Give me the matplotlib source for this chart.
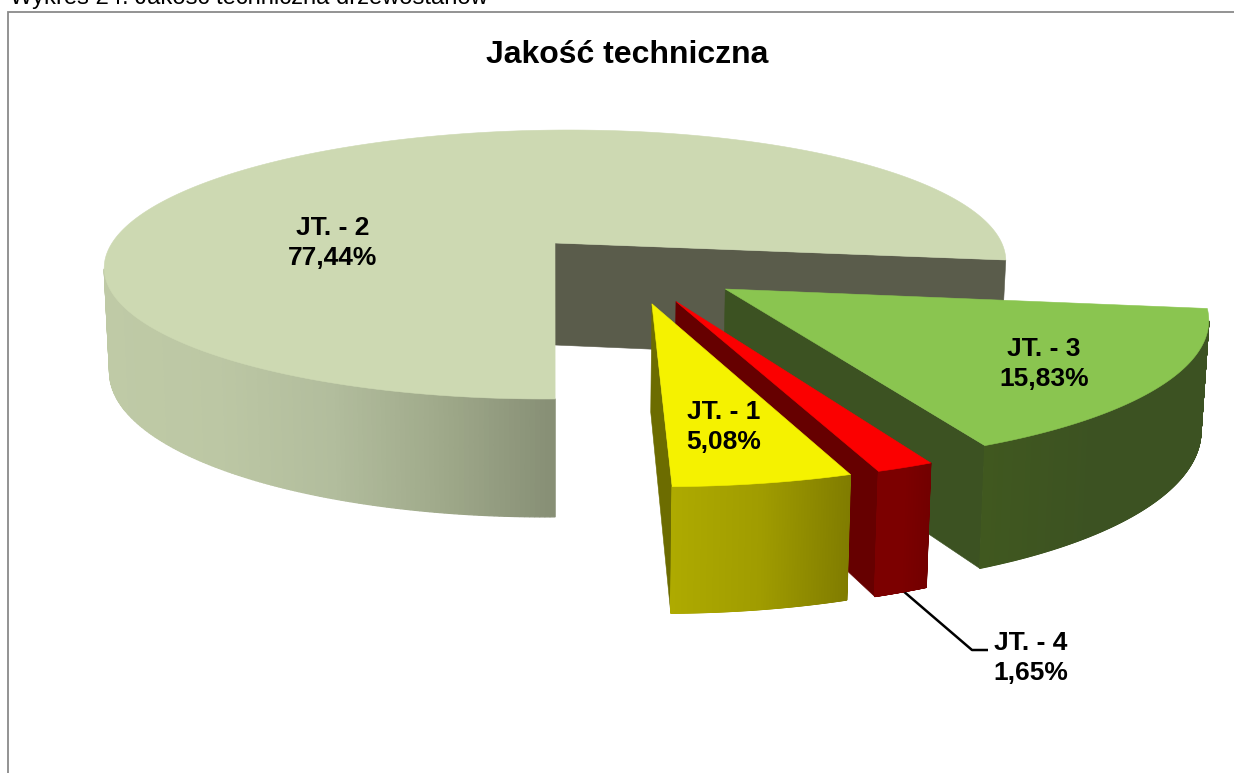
import numpy as np
import matplotlib
matplotlib.use("Agg")
import matplotlib.pyplot as plt
from matplotlib.colors import to_rgb

# --- data ---
categories = ["JT. - 1", "JT. - 2", "JT. - 3", "JT. - 4"]
values = [5.08, 77.44, 15.83, 1.65]
value_labels = ["5,08%", "77,44%", "15,83%", "1,65%"]
first_angle = 161.7
explosion = 0.25
title = "Jakość techniczna"
caption = "Wykres 24. Jakość techniczna drzewostanów"

# --- styles ---
top_colors = ["#f5f200", "#cdd9b2", "#8ac550", "#fb0000"]
cut_colors = ["#6c6c00", "#5a5c4b", "#3c5222", "#660000"]
outer_shades = [["#aeaa00", "#a09c00", "#807c00"],
                ["#bfcaa6", "#bcc7a4", "#b2bd9d", "#9fa98a", "#868e74"],
                ["#40581f", "#3c5222", "#3c5222"],
                ["#7c0000", "#7c0000", "#720000"]]
CX, CY, A, B, P, H, TILT, Q, CONV = 555, 243, 445, 131, 0.16, 102, 3.5, 0.135, 0.012
CAM_Y = -1 / P
draw_order = [1, 2, 3, 0]

plt.rcParams["font.family"] = ["Liberation Sans", "DejaVu Sans"]
fig = plt.figure(figsize=(12.34, 7.73), dpi=100)
ax = fig.add_axes([0, 0, 1, 1])
ax.set_xlim(0, 1234)
ax.set_ylim(773, 0)
ax.axis("off")


def proj(X, Y, z=0.0):
    X, Y = np.asarray(X), np.asarray(Y)
    d = 1 + P * Y
    x = A * X / d
    y = CY - B * Y / d - TILT * X + H * z / (1 + Q * Y)
    return CX + x * (1 - CONV * z), y


def ramp(stops, t):
    cols = np.array([to_rgb(c) for c in stops])
    pos = np.linspace(0, 1, len(stops))
    return [np.interp(t, pos, cols[:, k]) for k in range(3)]


def faces_viewer(px, py, nx, ny):
    return (0 - px) * nx + (CAM_Y - py) * ny > 1e-6


fractions = np.array(values) / sum(values)
starts = first_angle + 360 * np.concatenate([[0], np.cumsum(fractions)[:-1]])
ends = starts + 360 * fractions
# the pie's true centre: the largest slice's point sits at the plane origin
big = int(np.argmax(values))
big_mid = np.radians((starts[big] + ends[big]) / 2)
C = -explosion * np.array([np.sin(big_mid), np.cos(big_mid)])


def quad(xs, ys, color, z, lw=0.4):
    ax.fill(xs, ys, facecolor=color, edgecolor=color, lw=lw, zorder=z)


zbase = 2
for i in draw_order:
    s, e = starts[i], ends[i]
    mid = np.radians((s + e) / 2)
    ox = C[0] + explosion * np.sin(mid)
    oy = C[1] + explosion * np.cos(mid)
    th = np.radians(np.linspace(s, e, 500))
    px = ox + np.sin(th)
    py = oy + np.cos(th)
    # flat cut walls, only those that face the viewer
    for ang, sign in ((s, -1), (e, 1)):
        a = np.radians(ang)
        ex, ey = ox + np.sin(a), oy + np.cos(a)
        if not faces_viewer(ox, oy, sign * np.cos(a), -sign * np.sin(a)):
            continue
        x0, y0 = proj(ox, oy)
        x1, y1 = proj(ex, ey)
        x2, y2 = proj(ex, ey, 1)
        x3, y3 = proj(ox, oy, 1)
        quad([x0, x1, x2, x3], [y0, y1, y2, y3], cut_colors[i], zbase)
    # curved outer wall, the part facing the viewer
    tx, ty = proj(px, py)
    bx, by = proj(px, py, 1)
    vis = faces_viewer(px, py, np.sin(th), np.cos(th))
    idx = np.where(vis)[0]
    if len(idx):
        xmin, xmax = tx[idx].min(), tx[idx].max()
        for k in idx[:-1]:
            if not vis[k + 1]:
                continue
            col = ramp(outer_shades[i], (0.5 * (tx[k] + tx[k + 1]) - xmin) / (xmax - xmin))
            quad([tx[k], tx[k + 1], bx[k + 1], bx[k]], [ty[k], ty[k + 1], by[k + 1], by[k]], col, zbase + 1, lw=0.9)
    # top face
    x0, y0 = proj(ox, oy)
    ax.fill(np.r_[x0, tx], np.r_[y0, ty], facecolor=top_colors[i], edgecolor=top_colors[i], lw=0.4, zorder=zbase + 2)
    zbase += 3

# leader line for the smallest slice
ax.plot([902, 972, 988], [590, 650, 650], color="black", lw=1.8, zorder=1.5, solid_capstyle="butt")

label_pos = [(724, 427), (333, 243), (1044, 364), (1031, 658)]
for cat, val, (lx, ly) in zip(categories, value_labels, label_pos):
    ax.text(lx, ly, f"{cat}\n{val}", ha="center", va="center", fontsize=19, fontweight="bold",
            linespacing=1.33, color="black", zorder=40)

ax.text(627, 55, title, ha="center", va="center", fontsize=23, fontweight="bold", color="black", zorder=40)
ax.text(10, 4, caption, ha="left", va="baseline", fontsize=17.1, color="black", zorder=40)

# chart frame: top and left edges
ax.plot([1234, 8.3, 8.3], [12, 12, 773], color="#8a8a8a", lw=1.3, zorder=1, solid_joinstyle="miter")

fig.savefig("out.png", dpi=100, facecolor="white")
